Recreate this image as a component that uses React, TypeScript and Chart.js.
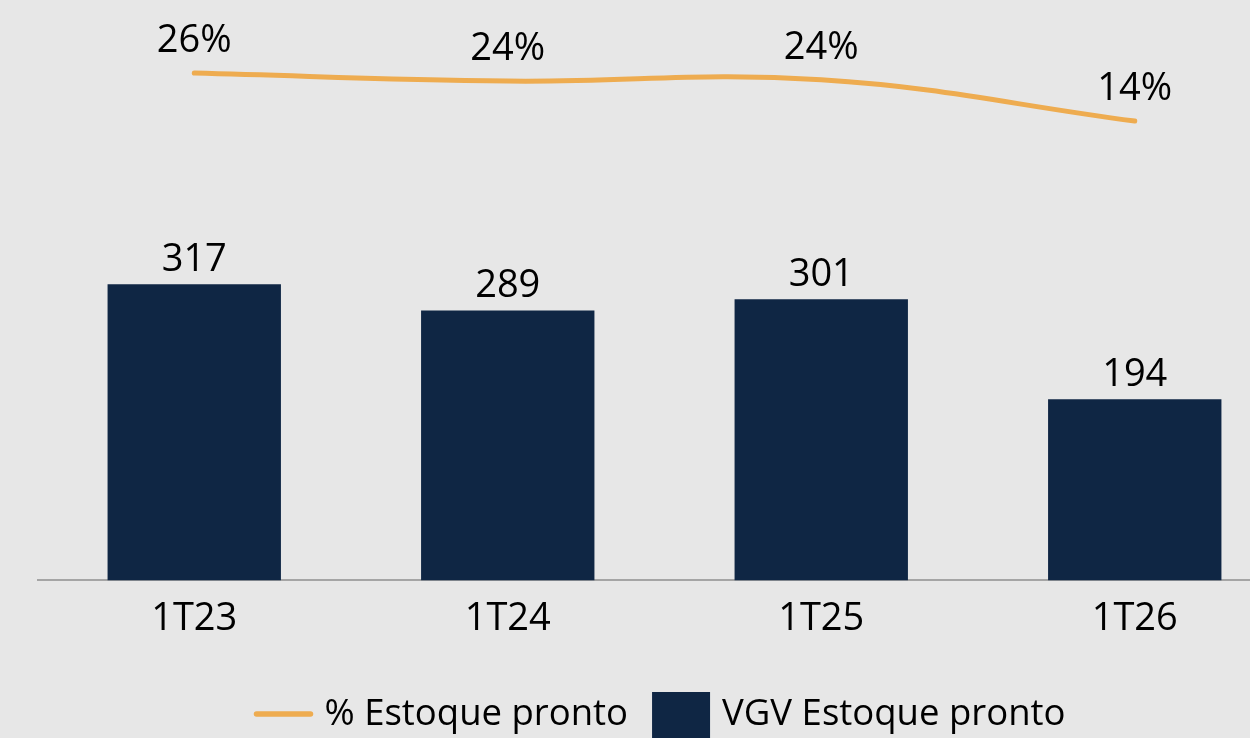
import React, { useEffect, useRef } from "react";
import { Chart, registerables } from "chart.js";

Chart.register(...registerables);

const categories = ["1T23", "1T24", "1T25", "1T26"];
const vgvEstoque = [317, 289, 301, 194];
const pctEstoque = [26, 24.0, 24.3, 14];
const seriesLabels = ["% Estoque pronto", "VGV Estoque pronto"];

const FONT = "'Open Sans', 'Noto Sans', sans-serif";
const LINE_COLOR = "#eeac50";
const BAR_COLOR = "#0f2644";

const dataLabelPlugin = {
  id: "dataLabels",
  afterDatasetsDraw(chart: any) {
    const ctx = chart.ctx;
    ctx.save();
    ctx.fillStyle = "#000";
    ctx.font = `38px ${FONT}`;
    ctx.textAlign = "center";
    ctx.textBaseline = "alphabetic";
    chart.data.datasets.forEach((ds: any, i: number) => {
      const meta = chart.getDatasetMeta(i);
      meta.data.forEach((el: any, j: number) => {
        const v = ds.data[j];
        if (ds.type === "line") {
          ctx.fillText(Math.round(v) + "%", el.x, el.y - 21);
        } else {
          ctx.fillText(String(v), el.x, el.y - 13);
        }
      });
    });
    ctx.restore();
  },
};

const legendPlugin = {
  id: "customLegend",
  afterDraw(chart: any) {
    const ctx = chart.ctx;
    ctx.save();
    ctx.font = `36.5px ${FONT}`;
    ctx.textBaseline = "middle";
    ctx.textAlign = "left";
    const items = chart.data.datasets.map((ds: any) => ({
      label: ds.label,
      type: ds.type,
      color: ds.type === "line" ? ds.borderColor : ds.backgroundColor,
    }));
    const sw = 58;
    const gapIn = 12;
    const gapOut = 24;
    let total = 0;
    items.forEach((it: any, k: number) => {
      total += sw + gapIn + ctx.measureText(it.label).width;
      if (k < items.length - 1) total += gapOut;
    });
    let x = 660 - total / 2;
    const cy = 714;
    items.forEach((it: any) => {
      if (it.type === "line") {
        ctx.strokeStyle = it.color;
        ctx.lineWidth = 5.5;
        ctx.lineCap = "round";
        ctx.beginPath();
        ctx.moveTo(x + 2, cy);
        ctx.lineTo(x + sw - 2, cy);
        ctx.stroke();
      } else {
        ctx.fillStyle = it.color;
        ctx.fillRect(x, 692, sw, 50);
      }
      x += sw + gapIn;
      ctx.fillStyle = "#000";
      ctx.fillText(it.label, x, cy + 1);
      x += ctx.measureText(it.label).width + gapOut;
    });
    ctx.restore();
  },
};

export default function App() {
  const canvasRef = useRef<HTMLCanvasElement | null>(null);

  useEffect(() => {
    if (!canvasRef.current) return;
    const chart = new Chart(canvasRef.current, {
      type: "bar",
      data: {
        labels: categories,
        datasets: [
          {
            type: "line",
            label: seriesLabels[0],
            data: pctEstoque,
            borderColor: LINE_COLOR,
            backgroundColor: LINE_COLOR,
            borderWidth: 5,
            borderCapStyle: "round",
            pointRadius: 0,
            tension: 0.4,
            yAxisID: "y2",
            order: 0,
          } as any,
          {
            type: "bar",
            label: seriesLabels[1],
            data: vgvEstoque,
            backgroundColor: BAR_COLOR,
            categoryPercentage: 1,
            barPercentage: 0.553,
            yAxisID: "y",
            order: 1,
          } as any,
        ],
      },
      options: {
        animation: false,
        responsive: true,
        maintainAspectRatio: false,
        layout: { padding: { left: 37.5, right: 0.5, top: 20, bottom: 80 } },
        plugins: { legend: { display: false }, tooltip: { enabled: false } },
        scales: {
          x: {
            grid: { display: false, drawTicks: false },
            border: { display: true, color: "#a5a5a5", width: 2 },
            ticks: { color: "#000", font: { size: 38, family: FONT }, padding: 16 },
          },
          y: { display: false, min: 0, max: 600 },
          y2: { display: false, min: -100.75, max: 39.25 },
        },
      },
      plugins: [dataLabelPlugin, legendPlugin],
    });
    return () => chart.destroy();
  }, []);

  return (
    <div
      style={{
        position: "fixed",
        left: 0,
        top: 0,
        width: 1250,
        height: 738,
        overflow: "hidden",
        background: "#e7e7e7",
      }}
    >
      <div style={{ position: "relative", width: 1292, height: 738 }}>
        <canvas ref={canvasRef} />
      </div>
    </div>
  );
}
